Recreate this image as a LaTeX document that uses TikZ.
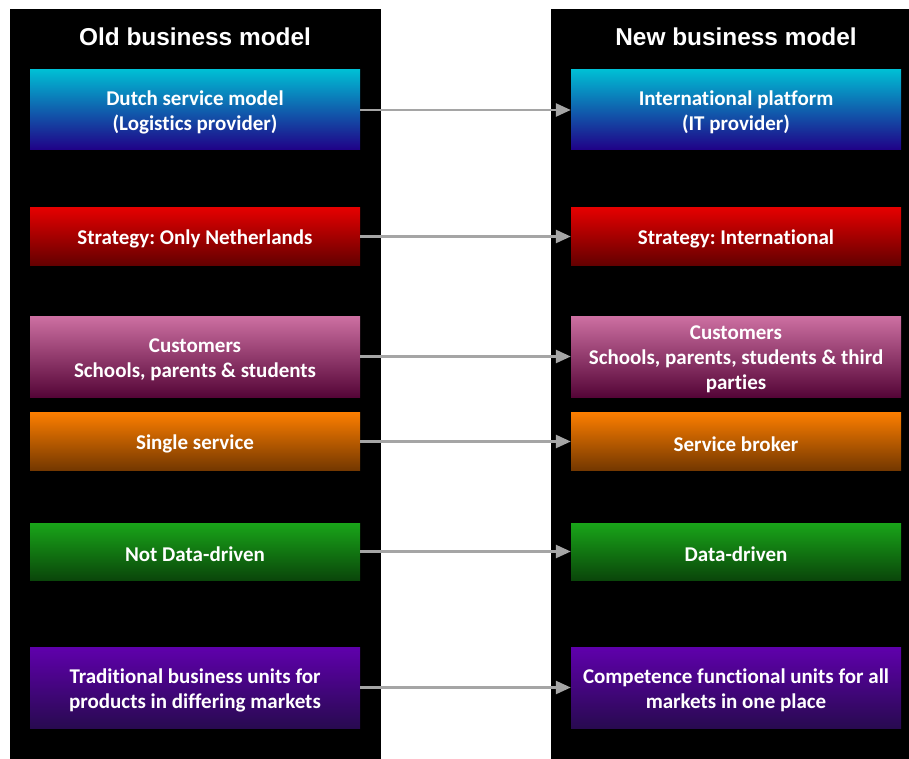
\documentclass[tikz,border=0pt]{standalone}
\usepackage{fontspec}
\setmainfont[Ligatures=NoCommon]{Carlito}
\newfontfamily\headfont{Liberation Sans}
\usetikzlibrary{arrows.meta,positioning}
\frenchspacing

\definecolor{cyantop}{RGB}{0,190,212}
\definecolor{bluebot}{RGB}{32,0,135}
\definecolor{redtop}{RGB}{228,0,0}
\definecolor{redbot}{RGB}{100,0,0}
\definecolor{pinktop}{RGB}{205,112,162}
\definecolor{pinkbot}{RGB}{85,5,55}
\definecolor{orangetop}{RGB}{252,126,0}
\definecolor{orangebot}{RGB}{115,55,0}
\definecolor{greentop}{RGB}{25,165,25}
\definecolor{greenbot}{RGB}{10,70,10}
\definecolor{purpletop}{RGB}{95,0,172}
\definecolor{purplebot}{RGB}{40,10,80}
\definecolor{arrowgray}{RGB}{165,165,165}

\tikzset{
  head/.style={text=white,font=\headfont\bfseries\fontsize{24.4}{28}\selectfont},
  box/.style={minimum width=330pt,inner sep=0pt,text=white,align=center,
    execute at begin node={\rule{0pt}{19.5pt}},
    font=\bfseries\fontsize{21}{25}\selectfont},
  twolines/.style={text height=45pt},
  threelines/.style={text height=70pt},
  bluebox/.style={box,top color=cyantop,bottom color=bluebot},
  redbox/.style={box,top color=redtop,bottom color=redbot},
  pinkbox/.style={box,top color=pinktop,bottom color=pinkbot},
  orangebox/.style={box,top color=orangetop,bottom color=orangebot},
  greenbox/.style={box,top color=greentop,bottom color=greenbot},
  purplebox/.style={box,top color=purpletop,bottom color=purplebot},
  link/.style={draw=arrowgray,line width=2.5pt,-{Triangle[length=15pt,width=13pt]}}
}

\begin{document}
\begin{tikzpicture}[x=1pt,y=-1pt,node distance=541pt]

  \useasboundingbox (0,0) rectangle (909,759);
  \fill[black] (10,9) rectangle (381,759);
  \fill[black] (551,9) rectangle (909,759);

  \node[head] (old) at (195,37) {Old business model};
  \node[head] (new) [right of=old] {New business model};

  % old model
  \node[bluebox,twolines,minimum height=80pt] (o1) at (195,110) {Dutch service model\\(Logistics provider)};
  \node[redbox,minimum height=57pt] (o2) at (195,236.5) {Strategy: Only Netherlands};
  \node[pinkbox,twolines,minimum height=81pt] (o3) at (195,356.5) {Customers\\Schools, parents \& students};
  \node[orangebox,minimum height=58pt] (o4) at (195,441.5) {Single service};
  \node[greenbox,minimum height=57pt] (o5) at (195,551.5) {Not Data-driven};
  \node[purplebox,twolines,minimum height=81pt] (o6) at (195,687.5) {Traditional business units for\\products in differing markets};

  % new model
  \node[bluebox,twolines,minimum height=80pt] (n1) [right of=o1] {International platform\\(IT provider)};
  \node[redbox,minimum height=57pt] (n2) [right of=o2] {Strategy: International};
  \node[pinkbox,threelines,minimum height=81pt] (n3) [right of=o3] {Customers\\Schools, parents, students \& third\\parties};
  \node[orangebox,minimum height=58pt] (n4) [right of=o4] {Service broker};
  \node[greenbox,minimum height=57pt] (n5) [right of=o5] {Data-driven};
  \node[purplebox,twolines,minimum height=81pt] (n6) [right of=o6] {Competence functional units for all\\markets in one place};

  \foreach \i in {1,...,6}
    \draw[link] (o\i) -- (n\i);

\end{tikzpicture}
\end{document}
